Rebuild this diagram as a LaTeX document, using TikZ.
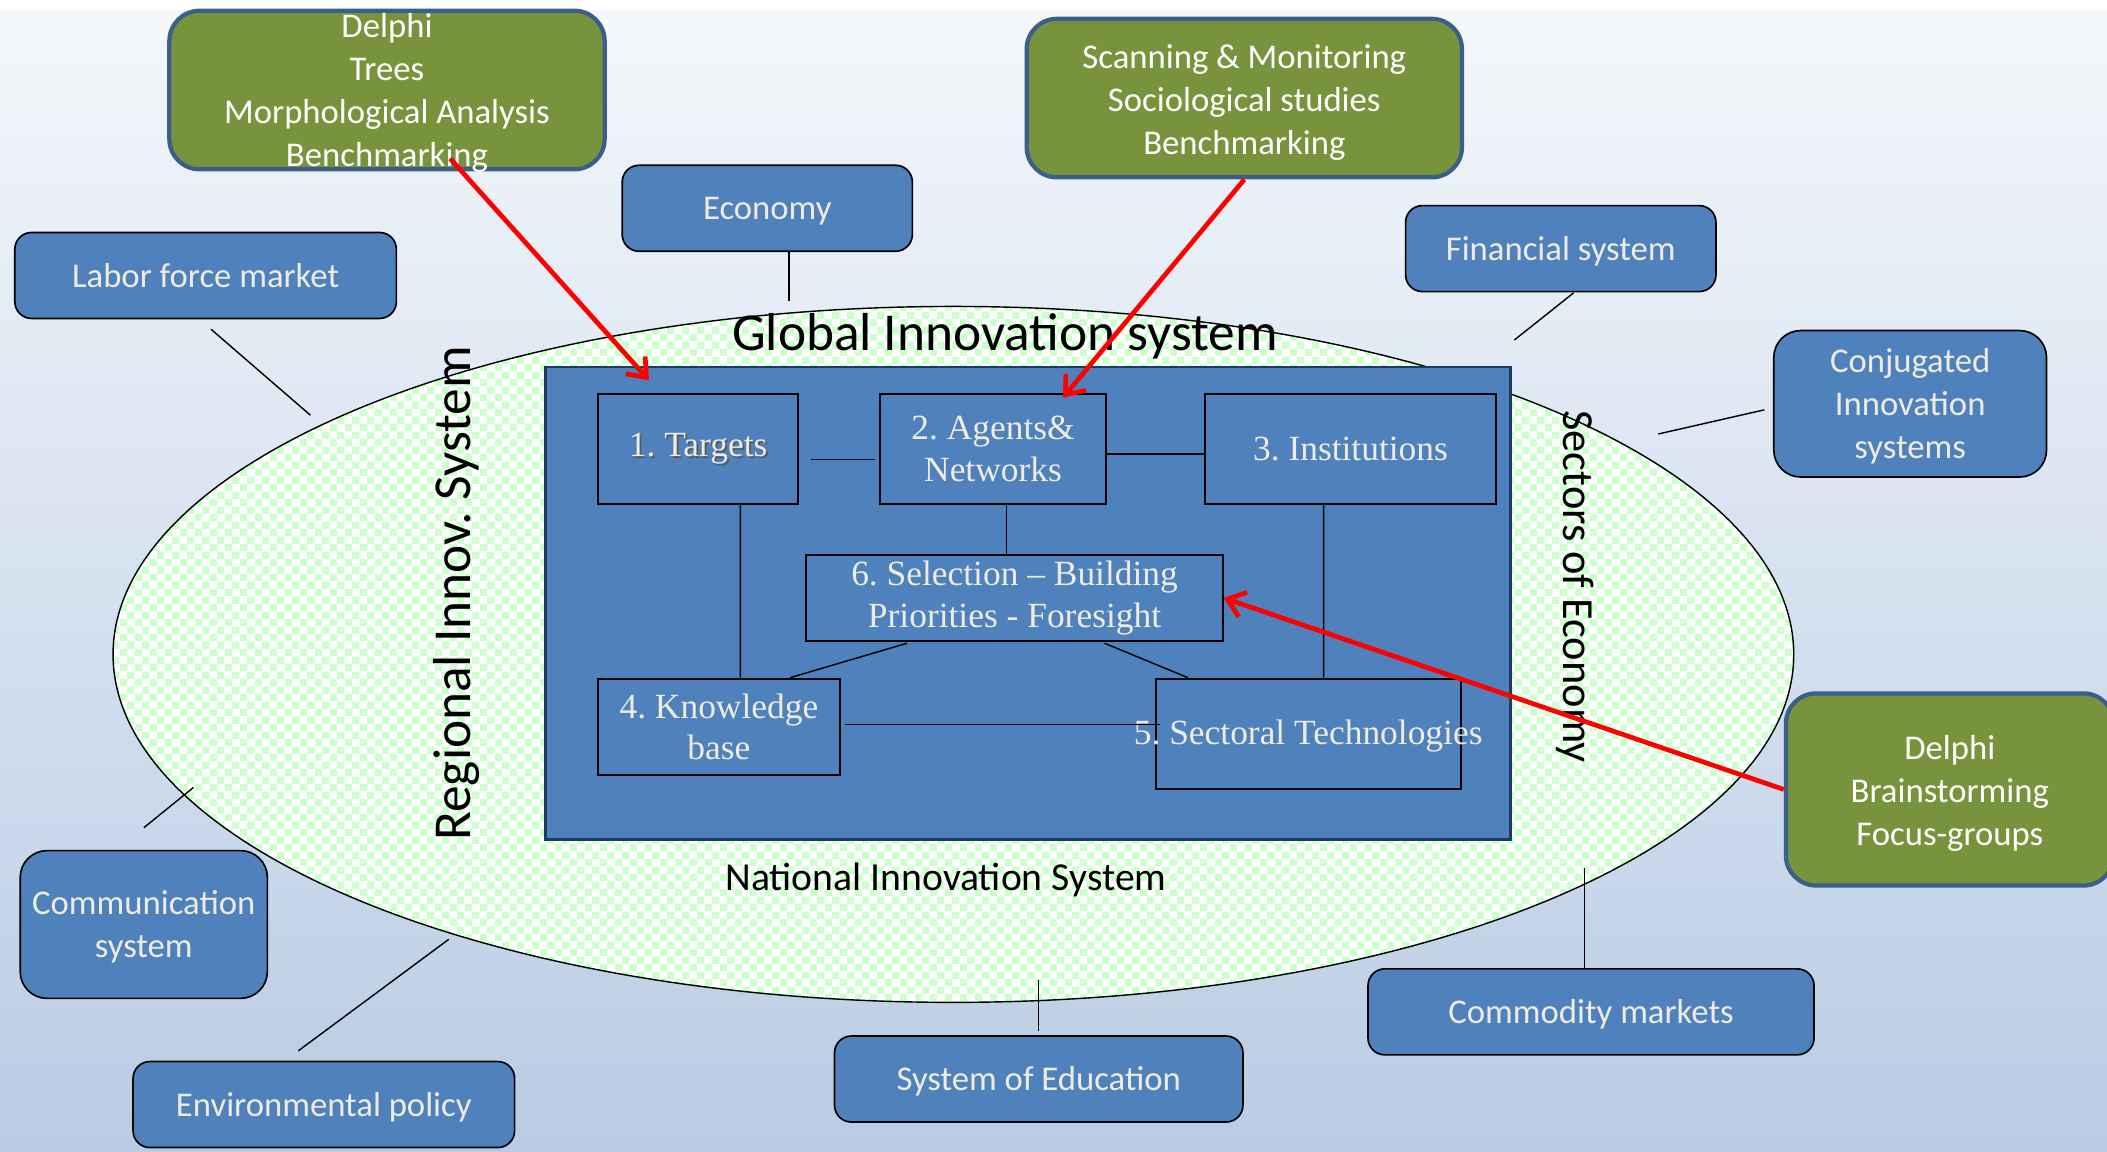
\documentclass[tikz,border=0pt]{standalone}
\usepackage{fontspec}
\setmainfont{Carlito}
\newfontfamily\tnr{Liberation Serif}
\usetikzlibrary{patterns,arrows.meta,calc,shapes.geometric}

\definecolor{bgtop}{HTML}{F4F7FB}
\definecolor{bgbot}{HTML}{B9CCE4}
\definecolor{boxblue}{HTML}{4F81BD}
\definecolor{olivefill}{HTML}{77933C}
\definecolor{olivebd}{HTML}{3A5F8B}
\definecolor{cream}{HTML}{EEECE1}
\definecolor{chk}{HTML}{CCFFCC}
\definecolor{coreborder}{HTML}{1F3A60}

\pgfdeclarepatternformonly{finecheck}{\pgfqpoint{0pt}{0pt}}{\pgfqpoint{6.4pt}{6.4pt}}{\pgfqpoint{6.4pt}{6.4pt}}{%
 \pgfpathrectangle{\pgfqpoint{0pt}{0pt}}{\pgfqpoint{3.2pt}{3.2pt}}%
 \pgfpathrectangle{\pgfqpoint{3.2pt}{3.2pt}}{\pgfqpoint{3.2pt}{3.2pt}}%
 \pgfusepath{fill}}

\newcommand\calf{\fontsize{14.7pt}{18.2pt}\selectfont}
\newcommand\tnrf{\tnr\fontsize{15pt}{17.6pt}\selectfont}

\begin{document}
\frenchspacing
\begin{tikzpicture}[x=0.02cm,y=-0.02cm,
  ob/.style={draw=black, line width=0.7pt, fill=boxblue, rounded corners=0.25cm, text=cream, font=\calf, align=center, inner sep=0pt},
  gb/.style={draw=olivebd, line width=1.8pt, fill=olivefill, rounded corners=0.45cm, inner sep=0pt},
  gt/.style={text=white, font=\calf, align=center, inner sep=0pt},
  ib/.style={draw=black, line width=0.8pt, fill=boxblue, text=cream, font=\tnrf, align=center, inner sep=0pt},
  cn/.style={draw=black, line width=0.6pt},
  ra/.style={draw=red, line width=2pt, -{Straight Barb[length=7pt,width=11pt]}},
  lbl/.style={text=black, inner sep=0pt}
]
\useasboundingbox (0,0) rectangle (1568,857);
\clip (0,0) rectangle (1568,857);
% background
\fill[white] (0,0) rectangle (1568,9);
\shade[top color=bgtop, bottom color=bgbot] (0,8) rectangle (1568,857);

% ellipse
\fill[white] (709.5,487) ellipse [x radius=12.51cm, y radius=5.18cm];
\fill[pattern=finecheck, pattern color=chk] (709.5,487) ellipse [x radius=12.51cm, y radius=5.18cm];
\draw[black, line width=0.6pt] (709.5,487) ellipse [x radius=12.51cm, y radius=5.18cm];

% outer boxes
\node[ob, minimum width=5.68cm, minimum height=1.28cm] (labor) at (153,205) {Labor force market};
\node[ob, minimum width=4.32cm, minimum height=1.28cm] (econ) at (571,155) {};
\node[text=cream, font=\calf, inner sep=0pt] at (571,157) {Economy};
\node[ob, minimum width=4.62cm, minimum height=1.28cm] (fin) at (1161.5,185) {};
\node[text=cream, font=\calf, inner sep=0pt] at (1161.5,187) {Financial system};
\node[ob, rounded corners=0.4cm, minimum width=4.06cm, minimum height=2.18cm] (conj) at (1421.5,300.5) {};
\node[text=cream, font=\calf, inner sep=0pt, align=center] at (1421.5,302.5) {Conjugated\\Innovation\\systems};
\node[ob, rounded corners=0.4cm, minimum width=3.68cm, minimum height=2.2cm] (comm) at (107,688) {};
\node[text=cream, font=\calf, inner sep=0pt, align=center] at (107,690) {Communication\\system};
\node[ob, minimum width=5.68cm, minimum height=1.28cm] (env) at (241,822) {};
\node[text=cream, font=\calf, inner sep=0pt] at (241,824) {Environmental policy};
\node[ob, minimum width=6.08cm, minimum height=1.28cm] (edu) at (773,803) {};
\node[text=cream, font=\calf, inner sep=0pt] at (773,805) {System of Education};
\node[ob, minimum width=6.64cm, minimum height=1.28cm] (comd) at (1184,753) {};
\node[text=cream, font=\calf, inner sep=0pt] at (1184,755) {Commodity markets};

% connector lines from outer boxes
\coordinate (la) at (157,245); \coordinate (lb) at (231,309);
\coordinate (ea) at (587,187); \coordinate (eb) at (587,224);
\coordinate (fa) at (1171,218); \coordinate (fb) at (1127,253);
\coordinate (ca) at (1313,305); \coordinate (cb) at (1234,323);
\coordinate (ma) at (107,616); \coordinate (mb) at (144,586);
\coordinate (va) at (222,782); \coordinate (vb) at (334,699);
\coordinate (da) at (773,767); \coordinate (db) at (773,729);
\coordinate (ka) at (1179,720); \coordinate (kb) at (1179,646);
\draw[cn] (la) -- (lb);
\draw[cn] (ea) -- (eb);
\draw[cn] (fa) -- (fb);
\draw[cn] (ca) -- (cb);
\draw[cn] (ma) -- (mb);
\draw[cn] (va) -- (vb);
\draw[cn] (da) -- (db);
\draw[cn] (ka) -- (kb);

% core rectangle
\node[draw=coreborder, line width=1.1pt, fill=boxblue, minimum width=14.36cm, minimum height=7.04cm, inner sep=0pt] (core) at (765,449) {};

% inner boxes
\node[ib, minimum width=2.98cm, minimum height=1.64cm] (b1) at (519.5,334) {};
\node[text=black!65, font=\tnrf, inner sep=0pt] at ($(b1)+(1.3,1.5)$) {1. Targets};
\node[text=cream, font=\tnrf, inner sep=0pt] at (b1) {1. Targets};
\node[ib, minimum width=3.36cm, minimum height=1.64cm] (b2) at (739,334) {2. Agents\&\\Networks};
\node[ib, minimum width=4.32cm, minimum height=1.64cm] (b3) at (1005,334) {3. Institutions};
\node[ib, minimum width=6.2cm, minimum height=1.28cm] (b6) at (755,445) {6. Selection \textendash{} Building\\Priorities - Foresight};
\node[ib, minimum width=3.6cm, minimum height=1.44cm] (b4) at (535,541) {4. Knowledge\\base};
\node[ib, minimum width=4.54cm, minimum height=1.64cm] (b5) at (973.5,546) {};
\node[text=cream, font=\tnrf, inner sep=0pt] at ($(b5)+(0,2)$) {5. Sectoral Technologies};

% inner connectors
\draw[cn] ($(b1.east)+(9,8)$) -- ($(b2.west)+(-3,8)$);
\draw[cn] ($(b2.east)+(0,4)$) -- ($(b3.west)+(0,4)$);
\draw[cn] ($(b1.south)+(31.5,0)$) -- ($(b4.north)+(16,0)$);
\draw[cn] ($(b2.south)+(10,0)$) -- ($(b6.north)+(-6,0)$);
\draw[cn] ($(b3.south)+(-20,0)$) -- ($(b5.north)+(11.5,0)$);
\draw[cn] ($(b6.south)+(-80,1)$) -- ($(b4.north)+(53,0)$);
\draw[cn] ($(b6.south)+(67,1)$) -- ($(b5.north)+(-89.5,0)$);
\draw[cn] ($(b4.east)+(3,-2)$) -- ($(b5.west)+(4,-7)$);

% labels
\node[lbl, font=\fontsize{22.6pt}{26pt}\selectfont] (glob) at (748,250) {Global Innovation system};
\node[lbl, font=\fontsize{16.8pt}{20pt}\selectfont] (nat) at (704,655) {National Innovation System};
\node[lbl, rotate=90, font=\fontsize{22.6pt}{26pt}\selectfont] (reg) at (340,441.5) {Regional Innov. System};
\node[lbl, rotate=-90, font=\fontsize{18.8pt}{22pt}\selectfont] (sect) at (1172,436.5) {Sectors of Economy};

% green boxes
\node[gb, minimum width=6.48cm, minimum height=2.36cm] (g1) at (288,67) {};
\node[gt] (g1t) at (288,69.5) {Delphi\\Trees\\Morphological Analysis\\Benchmarking};
\node[gb, minimum width=6.48cm, minimum height=2.36cm] (g2) at (926,73) {};
\node[gt] (g2t) at (926,76) {Scanning \& Monitoring\\Sociological studies\\Benchmarking};
\node[gb, minimum width=4.88cm, minimum height=2.86cm] (g3) at (1451,587.5) {};
\node[gt] (g3t) at (1451,590.5) {Delphi\\Brainstorming\\Focus-groups};

% red arrows
\coordinate (r1a) at (335,118); \coordinate (r1b) at (483,283);
\coordinate (r2b) at (791,296);
\draw[ra] (r1a) -- (r1b);
\draw[ra] (g2.south) -- (r2b);
\draw[ra] (g3.west) -- (b6.east);
\end{tikzpicture}
\end{document}
